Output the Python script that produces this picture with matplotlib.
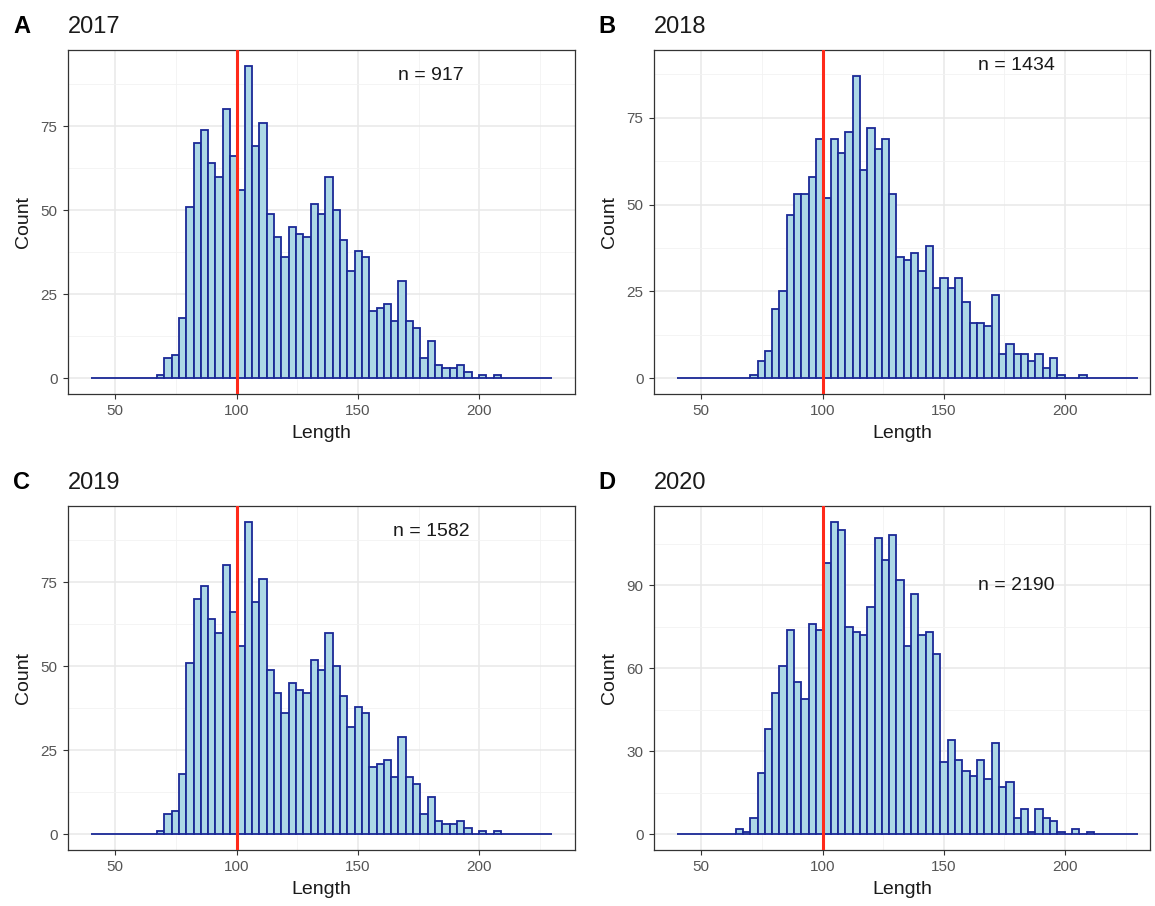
import matplotlib
matplotlib.use("Agg")
import matplotlib.pyplot as plt
import numpy as np
from matplotlib.ticker import MultipleLocator

plt.rcParams['font.family'] = ['Liberation Sans', 'DejaVu Sans']

# --- données (63 classes de 40 à 230) ---
bin_edges = np.linspace(40, 230, 64)

counts_2017 = [0, 0, 0, 0, 0, 0, 0, 0, 0, 1, 6, 7, 18, 51, 70, 74, 64, 60, 80, 66,
               56, 93, 69, 76, 49, 42, 36, 45, 43, 42, 52, 49, 60, 50, 41, 32, 38, 36, 20, 21,
               22, 17, 29, 17, 15, 6, 11, 4, 3, 3, 4, 2, 0, 1, 0, 1, 0, 0, 0, 0,
               0, 0, 0]
counts_2018 = [0, 0, 0, 0, 0, 0, 0, 0, 0, 0, 1, 5, 8, 20, 25, 47, 53, 53, 58, 69,
               52, 69, 65, 71, 87, 60, 72, 66, 69, 53, 35, 34, 36, 31, 38, 26, 29, 26, 29, 22,
               16, 16, 15, 24, 7, 10, 7, 7, 5, 7, 3, 6, 1, 0, 0, 1, 0, 0, 0, 0,
               0, 0, 0]
# le panneau 2019 reprend le même histogramme que 2017
counts_2019 = list(counts_2017)
counts_2020 = [0, 0, 0, 0, 0, 0, 0, 0, 2, 1, 6, 22, 38, 51, 61, 74, 55, 49, 76, 74,
               98, 113, 110, 75, 73, 72, 82, 107, 99, 108, 92, 68, 87, 72, 73, 65, 26, 34, 27, 23,
               21, 27, 20, 33, 17, 19, 6, 9, 1, 9, 6, 5, 1, 0, 2, 0, 1, 0, 0, 0,
               0, 0, 0]

years = ["2017", "2018", "2019", "2020"]
tags = ["A", "B", "C", "D"]
n_labels = [917, 1434, 1582, 2190]
all_counts = [counts_2017, counts_2018, counts_2019, counts_2020]
y_steps = [25, 25, 25, 30]
ref_length = 100
label_x, label_y = 180, 90

# --- positions des panneaux (pixels de l'image 1155x906) ---
W, H = 1155, 906
panels = [(68, 50, 575, 394), (654, 50, 1150, 394),
          (68, 506, 575, 850), (654, 506, 1150, 850)]
xlims = [(30.5, 239.4), (30.5, 235.0), (30.5, 239.4), (30.5, 235.0)]

fig = plt.figure(figsize=(W / 100, H / 100), dpi=100)

for i in range(4):
    x0, y0, x1, y1 = panels[i]
    ax = fig.add_axes([x0 / W, (H - y1) / H, (x1 - x0) / W, (y1 - y0) / H])
    counts = np.array(all_counts[i])
    widths = np.diff(bin_edges)
    ax.bar(bin_edges[:-1], counts, width=widths, align='edge',
           facecolor='#ADD8E6', edgecolor='#1A2896', linewidth=1.3, zorder=2)
    ax.axvline(ref_length, color='#FF2A1A', linewidth=2.2, zorder=3)

    # comme ggplot : l'échelle englobe aussi l'annotation
    ymax = max(counts.max(), label_y)
    ax.set_ylim(-0.05 * ymax, 1.05 * ymax)
    ax.set_xlim(*xlims[i])

    ax.xaxis.set_major_locator(MultipleLocator(50))
    ax.xaxis.set_minor_locator(MultipleLocator(25))
    ax.yaxis.set_major_locator(MultipleLocator(y_steps[i]))
    ax.yaxis.set_minor_locator(MultipleLocator(y_steps[i] / 2))
    ax.grid(True, which='major', color='#E8E8E8', linewidth=1.1, zorder=0)
    ax.grid(True, which='minor', color='#F2F2F2', linewidth=0.6, zorder=0)
    ax.set_axisbelow(True)

    for s in ax.spines.values():
        s.set_color('#333333')
        s.set_linewidth(0.9)
    ax.tick_params(which='major', length=3.5, width=0.8, color='#333333',
                   labelsize=11, labelcolor='#555555', pad=4)
    ax.tick_params(which='minor', length=0)

    ax.set_xlabel("Length", fontsize=14, color='#1A1A1A', labelpad=5)
    ax.set_ylabel("Count", fontsize=14, color='#1A1A1A', labelpad=6)
    ax.set_title(years[i], loc='left', fontsize=17, color='#1A1A1A', pad=12)

    ax.text(label_x, label_y, f"n = {n_labels[i]}", ha='center', va='center',
            fontsize=14, color='#1A1A1A', zorder=4)

    tag_x = 13 if i % 2 == 0 else 598
    fig.text(tag_x / W, (H - (y0 - 17)) / H, tags[i], fontsize=17,
             fontweight='bold', color='black', va='baseline')

fig.savefig("out.png", dpi=100)
